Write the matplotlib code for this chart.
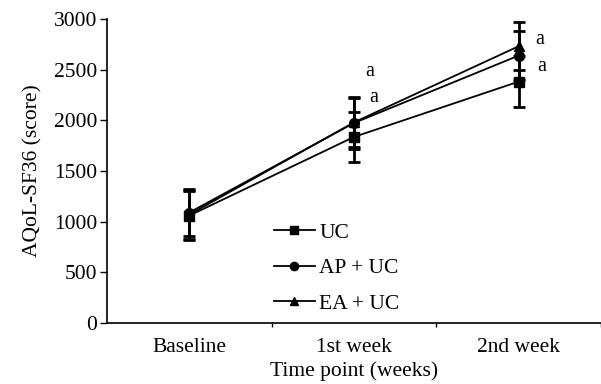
import matplotlib
matplotlib.use('Agg')
import matplotlib.pyplot as plt
import numpy as np

plt.rcParams['font.family'] = ['Liberation Serif', 'DejaVu Serif']

# data
time_points = ['Baseline', '1st week', '2nd week']
uc = [1060, 1836, 2382]
uc_err = [240, 250, 250]
ap_uc = [1090, 1974, 2639]
ap_uc_err = [230, 257, 240]
ea_uc = [1070, 1980, 2731]
ea_uc_err = [240, 240, 235]

x = np.arange(len(time_points)) + 0.5
fs = 15.5

fig = plt.figure(figsize=(6.01, 3.84), dpi=100)
ax = fig.add_axes([107 / 601, 61 / 384, 494 / 601, 304 / 384])

series = [
    (uc, uc_err, 's', 'UC'),
    (ap_uc, ap_uc_err, 'o', 'AP + UC'),
    (ea_uc, ea_uc_err, '^', 'EA + UC'),
]
for vals, errs, mk, lab in series:
    ax.errorbar(x, vals, yerr=errs, color='black', marker=mk, markersize=7,
                linewidth=1.3, elinewidth=2, capsize=4.5, capthick=2,
                label=lab)

# significance marks
ax.text(1.57, 2480, 'a', fontsize=fs - 1, ha='left', va='center')
ax.text(1.59, 2230, 'a', fontsize=fs - 1, ha='left', va='center')
ax.text(2.60, 2800, 'a', fontsize=fs - 1, ha='left', va='center')
ax.text(2.61, 2530, 'a', fontsize=fs - 1, ha='left', va='center')

ax.set_xlim(0, 3)
ax.set_ylim(0, 3000)
ax.set_yticks(np.arange(0, 3001, 500))
ax.set_xticks([1, 2, 3])
ax.set_xticklabels([])
ax.set_xticks(x, minor=True)
ax.set_xticklabels(time_points, minor=True)
ax.tick_params(axis='x', which='minor', length=0, labelsize=fs, pad=11)
ax.tick_params(axis='x', which='major', length=3, width=1)
ax.tick_params(axis='y', labelsize=fs, length=5, width=1, pad=2)

for side in ['top', 'right']:
    ax.spines[side].set_visible(False)
for side in ['left', 'bottom']:
    ax.spines[side].set_linewidth(1.2)

ax.set_xlabel('Time point (weeks)', fontsize=fs, labelpad=3)
ax.set_ylabel('AQoL-SF36 (score)', fontsize=fs, labelpad=8)

handles, labels = ax.get_legend_handles_labels()
handles = [h[0] for h in handles]
ax.legend(handles, labels, loc='upper left', bbox_to_anchor=(0.316, 0.365),
          frameon=False, fontsize=fs, handlelength=1.9, handletextpad=0.2,
          labelspacing=0.72, borderpad=0, markerscale=0.85)

fig.savefig('out.png', dpi=100)
